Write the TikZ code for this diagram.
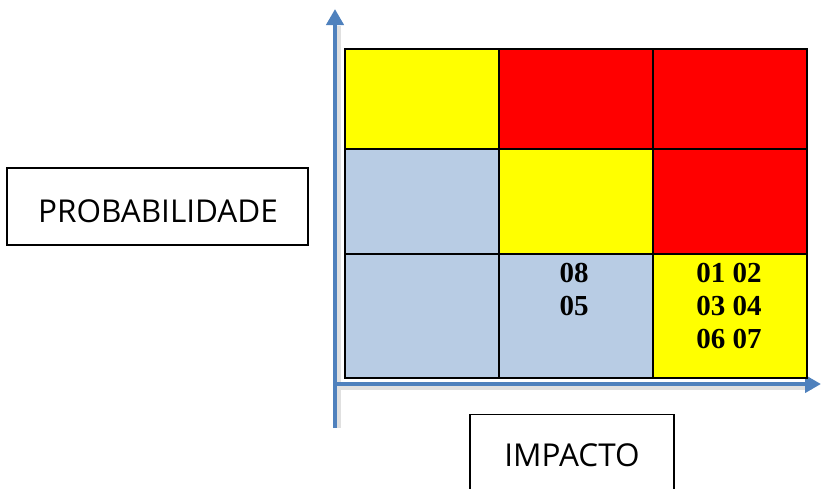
\documentclass[tikz,border=0pt]{standalone}
\usepackage{fontspec}
\setmainfont{Liberation Serif}
\newfontfamily\labelfont{Open Sans}
\usetikzlibrary{arrows.meta}
\definecolor{axisblue}{HTML}{4F81BD}
\definecolor{cellblue}{HTML}{B8CCE4}
\definecolor{cellyellow}{HTML}{FFFF00}
\definecolor{cellred}{HTML}{FF0000}
\tikzset{
  x=1pt,y=-1pt,
  cell/.style={draw=black,line width=2pt,inner sep=0pt,anchor=north west,minimum width=154pt},
  axis/.style={draw=axisblue,line width=4pt,-{Triangle[width=17pt,length=16pt]}},
  axisshadow/.style={draw=black!12,line width=5pt},
  labelbox/.style={draw=black,line width=1.3pt,fill=white,inner sep=0pt},
  labeltext/.style={font=\labelfont\fontsize{31.5}{36}\selectfont,inner sep=0pt},
  celltext/.style={font=\bfseries\fontsize{29}{33}\selectfont,align=center,inner sep=0pt,anchor=north}
}
\begin{document}
\begin{tikzpicture}
\useasboundingbox (0,0) rectangle (821,488);
% axes
\coordinate (o) at (335,428);
\coordinate (ytip) at (335,9);
\coordinate (xs) at (335,384);
\coordinate (xtip) at (821,384);
\draw[axisshadow] (338,428) -- (338,26);
\draw[axisshadow] (335,387) -- (812,387);
\draw[axis] (o) -- (ytip);
\draw[axis] (xs) -- (xtip);
% grid
\node[cell,fill=cellyellow,minimum height=100pt] (c11) at (344,48) {};
\node[cell,fill=cellred,minimum height=100pt] (c12) at (498,48) {};
\node[cell,fill=cellred,minimum height=100pt] (c13) at (652,48) {};
\node[cell,fill=cellblue,minimum height=105pt] (c21) at (344,148) {};
\node[cell,fill=cellyellow,minimum height=105pt] (c22) at (498,148) {};
\node[cell,fill=cellred,minimum height=105pt] (c23) at (652,148) {};
\node[cell,fill=cellblue,minimum height=124pt] (c31) at (344,253) {};
\node[cell,fill=cellblue,minimum height=124pt] (c32) at (498,253) {};
\node[cell,fill=cellyellow,minimum height=124pt] (c33) at (652,253) {};
\node[celltext] (t32) at (574,263) {08\\05};
\node[celltext] (t33) at (729,263) {01 02\\03 04\\06 07};
% labels
\node[labelbox,minimum width=301pt,minimum height=77pt] (prob) at (157.5,206.5) {};
\node[labeltext,anchor=base] (probt) at (158,222) {PROBABILIDADE};
\node[labelbox,anchor=north,minimum width=204pt,minimum height=90pt] (imp) at (572,414) {};
\node[labeltext,anchor=base] (impt) at (572,466) {IMPACTO};
\end{tikzpicture}
\end{document}
